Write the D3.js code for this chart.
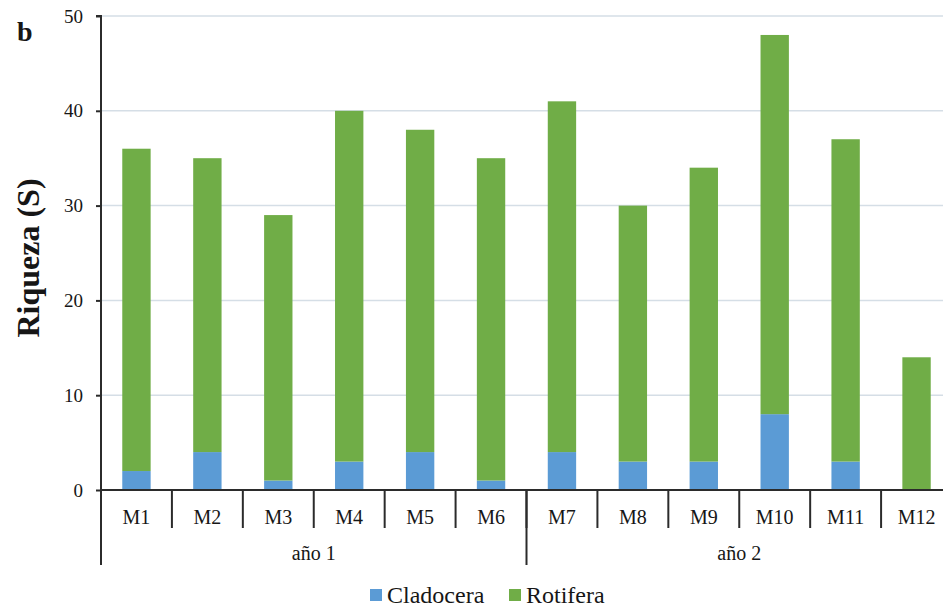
<!DOCTYPE html>
<html>
<head>
<meta charset="utf-8">
<script src="https://cdn.jsdelivr.net/npm/d3@7"></script>
<style>
  html, body { margin: 0; padding: 0; background: #fff; }
  svg { display: block; }
  svg text { font-family: "Liberation Serif", "Times New Roman", "DejaVu Serif", serif; }
</style>
</head>
<body>
<svg id="chart" width="943" height="609"></svg>
<script>
// Monthly samples, grouped by year
const months = ["M1","M2","M3","M4","M5","M6","M7","M8","M9","M10","M11","M12"];
const years = [
  { label: "año 1", from: "M1", to: "M6" },
  { label: "año 2", from: "M7", to: "M12" }
];
// Species richness per group
const cladocera = [2, 4, 1, 3, 4, 1, 4, 3, 3, 8, 3, 0];
const rotifera  = [34, 31, 28, 37, 34, 34, 37, 27, 31, 40, 34, 14];
const seriesNames = ["Cladocera", "Rotifera"];
const seriesColors = ["#5b9bd5", "#70ad47"];
const yTicks = [0, 10, 20, 30, 40, 50];

const svg = d3.select("#chart");
const W = 943;
const plotLeft = 101, plotRight = 952, plotTop = 16, plotBottom = 490;
const textColor = "#161616", axisColor = "#2b2b2b";
const serif = '"Liberation Serif", "Times New Roman", serif';

const rows = months.map((m, i) => ({ month: m, Cladocera: cladocera[i], Rotifera: rotifera[i] }));
const stacked = d3.stack().keys(seriesNames)(rows);

const x = d3.scaleBand().domain(months).range([plotLeft, plotRight]).paddingInner(0.6).paddingOuter(0.3);
const y = d3.scaleLinear().domain([0, 50]).range([plotBottom, plotTop]);
const color = d3.scaleOrdinal().domain(seriesNames).range(seriesColors);

const step = x.step();
const slotStart = m => x(m) - (step - x.bandwidth()) / 2;
const slotEnd = m => slotStart(m) + step;

// horizontal gridlines
svg.append("g").selectAll("line").data(yTicks.filter(t => t > 0)).join("line")
  .attr("x1", plotLeft).attr("x2", W)
  .attr("y1", d => y(d)).attr("y2", d => y(d))
  .attr("stroke", "#d5dee6").attr("stroke-width", 1.5);

// stacked bars
svg.append("g").selectAll("g").data(stacked).join("g")
  .attr("fill", d => color(d.key))
  .selectAll("rect").data(d => d).join("rect")
  .attr("x", d => x(d.data.month))
  .attr("width", x.bandwidth())
  .attr("y", d => y(d[1]))
  .attr("height", d => y(d[0]) - y(d[1]));

// y axis
const yAxis = svg.append("g").attr("transform", `translate(${plotLeft},0)`)
  .call(d3.axisLeft(y).tickValues(yTicks).tickSize(5).tickPadding(13));
yAxis.attr("font-family", serif);
yAxis.select(".domain").attr("stroke", axisColor).attr("stroke-width", 2)
  .attr("d", `M-5,${plotTop}H0V${plotBottom}`);
yAxis.selectAll(".tick line").attr("stroke", axisColor).attr("stroke-width", 2);
yAxis.selectAll(".tick text").attr("fill", textColor)
  .style("font-family", serif).style("font-size", "19px");

// x axis baseline
svg.append("line").attr("x1", plotLeft).attr("x2", W).attr("y1", plotBottom).attr("y2", plotBottom)
  .attr("stroke", axisColor).attr("stroke-width", 2);

// month separators
svg.append("g").selectAll("line").data(months.slice(0, -1)).join("line")
  .attr("x1", d => slotEnd(d)).attr("x2", d => slotEnd(d))
  .attr("y1", plotBottom).attr("y2", 528)
  .attr("stroke", axisColor).attr("stroke-width", 2);

// month labels
svg.append("g").selectAll("text").data(months).join("text")
  .attr("x", d => x(d) + x.bandwidth() / 2).attr("y", 524)
  .attr("text-anchor", "middle").attr("fill", textColor)
  .style("font-family", serif).style("font-size", "20px").text(d => d);

// year separators and labels
const yearEdges = [slotStart(years[0].from)].concat(years.map(g => slotEnd(g.to)));
svg.append("g").selectAll("line").data(yearEdges).join("line")
  .attr("x1", d => d).attr("x2", d => d)
  .attr("y1", plotBottom).attr("y2", 565)
  .attr("stroke", axisColor).attr("stroke-width", 2);
svg.append("g").selectAll("text").data(years).join("text")
  .attr("x", g => (slotStart(g.from) + slotEnd(g.to)) / 2).attr("y", 560)
  .attr("text-anchor", "middle").attr("fill", textColor)
  .style("font-family", serif).style("font-size", "20px").text(g => g.label);

// axis title
svg.append("text")
  .attr("transform", `translate(39,258) rotate(-90)`)
  .attr("text-anchor", "middle").attr("fill", textColor)
  .style("font-family", serif).style("font-size", "32px").style("font-weight", "bold")
  .text("Riqueza (S)");

// panel letter
svg.append("text").attr("x", 17).attr("y", 41).attr("fill", textColor)
  .style("font-family", serif).style("font-size", "28px").style("font-weight", "bold").text("b");

// legend
const legend = svg.append("g").attr("transform", "translate(370,595)");
const legendX = [0, 139];
const item = legend.selectAll("g").data(seriesNames).join("g")
  .attr("transform", (d, i) => `translate(${legendX[i]},0)`);
item.append("rect").attr("x", 0).attr("y", -6).attr("width", 12).attr("height", 12)
  .attr("fill", d => color(d));
item.append("text").attr("x", 17).attr("y", 8).attr("fill", textColor)
  .style("font-family", serif).style("font-size", "24px").text(d => d);
</script>
</body>
</html>
